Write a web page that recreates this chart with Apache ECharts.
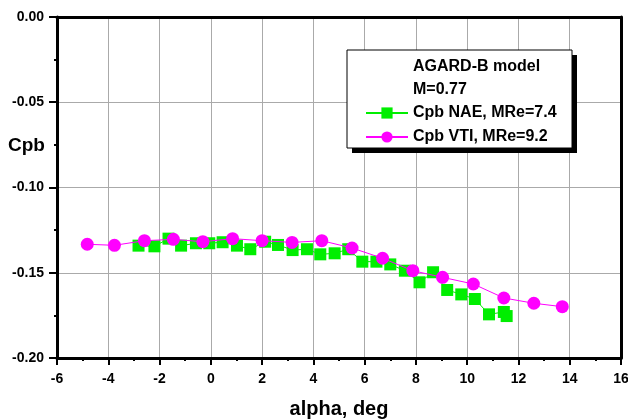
<!DOCTYPE html>
<html>
<head>
<meta charset="utf-8">
<script src="https://cdn.jsdelivr.net/npm/echarts@6/dist/echarts.min.js"></script>
<style>
    html, body { margin: 0; padding: 0; background: #fff; }
    #chart { width: 628px; height: 419px; }
</style>
</head>
<body>
<div id="chart"></div>
<script>
// Cpb NAE, MRe=7.4 (green squares)
const naeAlpha = [-2.82, -2.2, -1.65, -1.16, -0.58, -0.06, 0.46, 1.02, 1.54, 2.12, 2.62, 3.19, 3.75, 4.27, 4.83,
    5.36, 5.91, 6.46, 7.0, 7.57, 8.14, 8.67, 9.22, 9.77, 10.3, 10.85, 11.43, 11.54];
const naeCpb = [-0.1341, -0.1345, -0.1300, -0.1341, -0.1327, -0.1327, -0.1321, -0.1341, -0.1362, -0.1318, -0.1337,
    -0.1367, -0.1362, -0.1392, -0.1386, -0.1362, -0.1435, -0.1435, -0.1451, -0.1488, -0.1556, -0.1497, -0.1601,
    -0.1627, -0.1654, -0.1744, -0.1730, -0.1754];

// Cpb VTI, MRe=9.2 (magenta circles)
const vtiAlpha = [-4.82, -3.76, -2.59, -1.46, -0.31, 0.85, 2.0, 3.17, 4.33, 5.51, 6.70, 7.88, 9.04, 10.24, 11.43, 12.6, 13.71];
const vtiCpb = [-0.1333, -0.1339, -0.1312, -0.1304, -0.1318, -0.1300, -0.1312, -0.1322, -0.1312, -0.1355, -0.1415,
    -0.1488, -0.1527, -0.1566, -0.1648, -0.1679, -0.1699];

const legendTitle = ['AGARD-B model', 'M=0.77'];
const seriesNames = ['Cpb NAE, MRe=7.4', 'Cpb VTI, MRe=9.2'];
const yTitle = 'Cpb';

const FONT = 'Liberation Sans, Arial, sans-serif';

function zip(xs, ys) {
    return xs.map((x, i) => [x, ys[i]]);
}

const chart = echarts.init(document.getElementById('chart'));

// plain thick lines closing the frame on top and right
const frameAxis = {
    axisLine: { show: true, onZero: false, lineStyle: { color: '#000', width: 3 } },
    axisTick: { show: false },
    axisLabel: { show: false },
    splitLine: { show: false }
};

const boldText = (x, y, text, size) => ({
    type: 'text',
    z: 11,
    style: { x: x, y: y, text: text, fontFamily: FONT, fontSize: size, fontWeight: 'bold', fill: '#000', verticalAlign: 'middle' }
});

chart.setOption({
    backgroundColor: '#fff',
    animation: false,
    grid: { left: 57, right: 7, top: 17, bottom: 61, outerBoundsMode: 'none' },
    legend: {
        orient: 'vertical',
        left: 365,
        top: 105,
        padding: 0,
        z: 20,
        itemWidth: 42,
        itemHeight: 14,
        itemGap: 8,
        data: seriesNames,
        textStyle: { fontFamily: FONT, fontSize: 16, fontWeight: 'bold', color: '#000' }
    },
    graphic: [
        {
            type: 'rect',
            z: 9,
            shape: { x: 352, y: 55, width: 225, height: 98 },
            style: { fill: '#000' }
        },
        {
            type: 'rect',
            z: 10,
            shape: { x: 347, y: 50, width: 225, height: 98 },
            style: { fill: '#fff', stroke: '#000', lineWidth: 1 }
        },
        boldText(413, 67, legendTitle[0], 16),
        boldText(413, 90, legendTitle[1], 16),
        boldText(8, 146, yTitle, 19)
    ],
    xAxis: [
        {
            type: 'value',
            min: -6, max: 16, interval: 2,
            name: 'alpha, deg',
            nameLocation: 'middle',
            nameGap: 41,
            nameTextStyle: { fontFamily: FONT, fontSize: 20, fontWeight: 'bold', color: '#000' },
            axisLine: { onZero: false, lineStyle: { color: '#000', width: 3 } },
            axisTick: { show: true, length: 7, lineStyle: { color: '#000', width: 2 } },
            minorTick: { show: true, splitNumber: 2, length: 3, lineStyle: { color: '#000', width: 2 } },
            axisLabel: { fontFamily: FONT, fontSize: 14, fontWeight: 'bold', color: '#000', margin: 14 },
            splitLine: { show: true, lineStyle: { color: '#aaa', width: 1 } }
        },
        Object.assign({ type: 'value', min: -6, max: 16, position: 'top' }, frameAxis)
    ],
    yAxis: [
        {
            type: 'value',
            min: -0.2, max: 0, interval: 0.05,
            axisLine: { onZero: false, lineStyle: { color: '#000', width: 3 } },
            axisTick: { show: true, length: 8, lineStyle: { color: '#000', width: 2 } },
            minorTick: { show: true, splitNumber: 2, length: 3, lineStyle: { color: '#000', width: 2 } },
            axisLabel: {
                fontFamily: FONT, fontSize: 14, fontWeight: 'bold', color: '#000', margin: 13,
                formatter: v => v.toFixed(2)
            },
            splitLine: { show: true, lineStyle: { color: '#aaa', width: 1 } }
        },
        Object.assign({ type: 'value', min: -0.2, max: 0, position: 'right' }, frameAxis)
    ],
    series: [
        {
            name: seriesNames[0],
            type: 'line',
            data: zip(naeAlpha, naeCpb),
            symbol: 'rect',
            symbolSize: 12,
            itemStyle: { color: '#00ee00' },
            lineStyle: { color: '#00ee00', width: 1 },
            z: 3
        },
        {
            name: seriesNames[1],
            type: 'line',
            data: zip(vtiAlpha, vtiCpb),
            symbol: 'circle',
            symbolSize: 13,
            itemStyle: { color: '#ff00ff' },
            lineStyle: { color: '#ff00ff', width: 1 },
            z: 4
        }
    ]
});
</script>
</body>
</html>
